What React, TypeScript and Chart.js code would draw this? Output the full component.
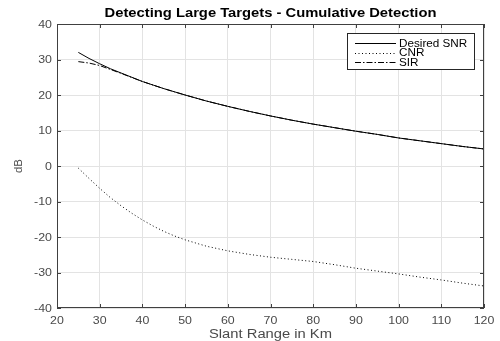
import React, { useEffect, useRef } from "react";
import { Chart, registerables } from "chart.js";

Chart.register(...registerables);

const rangeKm = [25, 27.5, 30, 32.5, 35, 37.5, 40, 42.5, 45, 47.5, 50, 55, 60, 65, 70, 75, 80, 85, 90, 95, 100, 105, 110, 115, 120];
const desiredSnr = [32.0, 30.3, 28.8, 27.4, 26.2, 25.0, 23.8, 22.8, 21.8, 20.9, 20.0, 18.3, 16.8, 15.4, 14.1, 12.9, 11.8, 10.8, 9.8, 8.9, 7.9, 7.1, 6.3, 5.5, 4.8];
const cnr = [-0.6, -3.5, -6.3, -8.9, -11.2, -13.3, -15.2, -16.9, -18.4, -19.7, -20.8, -22.6, -23.9, -24.9, -25.7, -26.3, -26.9, -27.8, -28.8, -29.6, -30.4, -31.3, -32.1, -33.0, -33.8];
const sir = [29.4, 29.0, 28.3, 27.2, 26.1, 24.95, 23.8, 22.8, 21.8, 20.9, 20.0, 18.3, 16.8, 15.4, 14.1, 12.9, 11.8, 10.8, 9.8, 8.9, 7.9, 7.1, 6.3, 5.5, 4.8];

const seriesNames = ["Desired SNR", "CNR", "SIR"];
const xTicks = [20, 30, 40, 50, 60, 70, 80, 90, 100, 110, 120];
const yTicks = [-40, -30, -20, -10, 0, 10, 20, 30, 40];

const titleText = "Detecting Large Targets - Cumulative Detection";
const xTitle = "Slant Range in Km";
const yTitle = "dB";

const FONT = "'Liberation Sans', Arial, sans-serif";
const AXIS = "#404040";
const LABEL = "#4a4a4a";
const dashes: number[][] = [[], [1, 2.5], [6, 2, 1.5, 2]];

const toPts = (ys: number[]) => rangeKm.map((x, i) => ({ x, y: ys[i] }));

function stretchText(ctx: any, text: string, x: number, y: number, font: string, align: string, sx: number, color: string) {
  ctx.save();
  ctx.translate(x, y);
  ctx.scale(sx, 1);
  ctx.font = font;
  ctx.textAlign = align;
  ctx.textBaseline = "alphabetic";
  ctx.fillStyle = color;
  ctx.fillText(text, 0, 0);
  ctx.restore();
}

const decorPlugin = {
  id: "decor",
  afterDraw(chart: any) {
    const { ctx, chartArea } = chart;
    const { left, right, top, bottom } = chartArea;
    const xs = chart.scales.x;
    const ys = chart.scales.y;
    ctx.save();
    ctx.strokeStyle = AXIS;
    ctx.lineWidth = 1;
    ctx.setLineDash([]);
    ctx.strokeRect(Math.round(left) + 0.5, Math.round(top) + 0.5, Math.round(right - left) - 1, Math.round(bottom - top) - 1);
    ctx.beginPath();
    xTicks.forEach((v) => {
      const px = Math.round(xs.getPixelForValue(v)) + 0.5;
      ctx.moveTo(px, bottom);
      ctx.lineTo(px, bottom - 4);
      ctx.moveTo(px, top);
      ctx.lineTo(px, top + 4);
    });
    yTicks.forEach((v) => {
      const py = Math.round(ys.getPixelForValue(v)) + 0.5;
      ctx.moveTo(left, py);
      ctx.lineTo(left + 4, py);
      ctx.moveTo(right, py);
      ctx.lineTo(right - 4, py);
    });
    ctx.stroke();
    xTicks.forEach((v) => {
      stretchText(ctx, String(v), xs.getPixelForValue(v), 323.5, `10.5px ${FONT}`, "center", 1.18, LABEL);
    });
    yTicks.forEach((v) => {
      stretchText(ctx, String(v), 52, ys.getPixelForValue(v) + 3.7, `10.5px ${FONT}`, "right", 1.18, LABEL);
    });
    stretchText(ctx, titleText, (left + right) / 2, 16.8, `bold 12px ${FONT}`, "center", 1.23, "#000");
    stretchText(ctx, xTitle, (left + right) / 2, 338, `12.5px ${FONT}`, "center", 1.18, LABEL);
    ctx.save();
    ctx.translate(22, (top + bottom) / 2);
    ctx.rotate(-Math.PI / 2);
    ctx.font = `11.5px ${FONT}`;
    ctx.textAlign = "center";
    ctx.textBaseline = "alphabetic";
    ctx.fillStyle = LABEL;
    ctx.fillText(yTitle, 0, 0);
    ctx.restore();
    const bx = 347.5, by = 33.5, bw = 127, bh = 36;
    ctx.fillStyle = "#fff";
    ctx.fillRect(bx, by, bw, bh);
    ctx.strokeStyle = "#262626";
    ctx.strokeRect(bx, by, bw, bh);
    seriesNames.forEach((name, i) => {
      const yy = 43.3 + i * 9.5;
      ctx.strokeStyle = "#000";
      ctx.setLineDash(dashes[i]);
      ctx.beginPath();
      ctx.moveTo(355, Math.round(yy) + 0.5);
      ctx.lineTo(396, Math.round(yy) + 0.5);
      ctx.stroke();
      ctx.setLineDash([]);
      stretchText(ctx, name, 399, yy + 3.6, `10px ${FONT}`, "left", 1.17, "#000");
    });
    ctx.restore();
  },
};

export default function App() {
  const ref = useRef<HTMLCanvasElement | null>(null);
  useEffect(() => {
    if (!ref.current) return;
    const seriesData = [desiredSnr, cnr, sir];
    const chart = new Chart(ref.current, {
      type: "line",
      data: {
        datasets: seriesNames.map((name, i) => ({
          label: name,
          data: toPts(seriesData[i]),
          borderColor: "#000",
          borderWidth: 1,
          borderDash: dashes[i],
          pointRadius: 0,
          fill: false,
          tension: 0,
        })),
      },
      options: {
        responsive: false,
        animation: false,
        layout: { padding: { left: 0, top: 24, right: 16, bottom: 0 } },
        plugins: { legend: { display: false }, title: { display: false }, tooltip: { enabled: false } },
        scales: {
          x: {
            type: "linear",
            min: 20,
            max: 120,
            afterBuildTicks: (s: any) => { s.ticks = xTicks.map((v) => ({ value: v })); },
            afterFit: (s: any) => { s.height = 33; },
            grid: { color: "#e3e3e3", drawTicks: false },
            border: { display: false },
            ticks: { display: false },
          },
          y: {
            type: "linear",
            min: -40,
            max: 40,
            afterBuildTicks: (s: any) => { s.ticks = yTicks.map((v) => ({ value: v })); },
            afterFit: (s: any) => { s.width = 57; },
            grid: { color: "#e3e3e3", drawTicks: false },
            border: { display: false },
            ticks: { display: false },
          },
        },
      },
      plugins: [decorPlugin],
    } as any);
    return () => chart.destroy();
  }, []);
  return (
    <div style={{ position: "fixed", left: 0, top: 0, width: 500, height: 341, background: "#fff" }}>
      <canvas ref={ref} width={500} height={341} style={{ width: 500, height: 341 }} />
    </div>
  );
}
